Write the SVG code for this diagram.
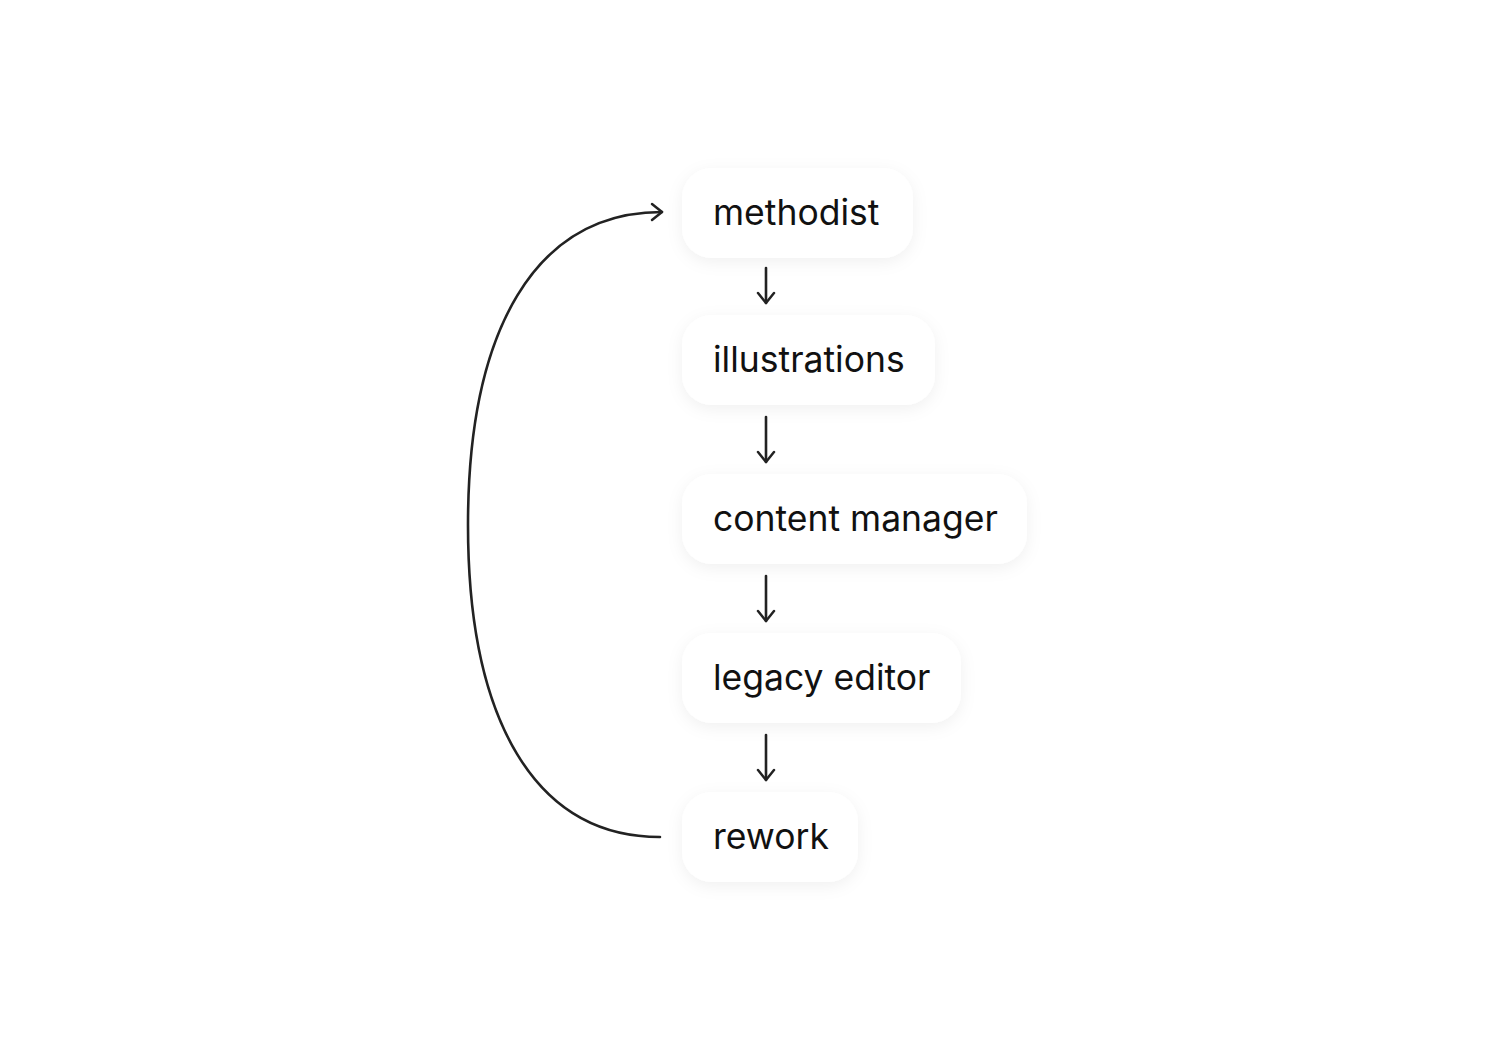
<svg xmlns="http://www.w3.org/2000/svg" width="1503" height="1050" viewBox="0 0 1503 1050">
<defs>
<filter id="sh" x="-30%" y="-40%" width="160%" height="180%">
<feDropShadow dx="0" dy="4" stdDeviation="8" flood-color="#000" flood-opacity="0.06"/>
</filter>
<marker id="ah" viewBox="0 0 20 20" refX="16" refY="10" markerWidth="20" markerHeight="20" markerUnits="userSpaceOnUse" orient="auto">
<path d="M6,2 L16,10 L6,18" fill="none" stroke="#222" stroke-width="2.5" stroke-linecap="round" stroke-linejoin="round"/>
</marker>
</defs>
<style>
.box{fill:#fff;filter:url(#sh)}
.lbl{font-family:Inter,"Noto Sans",sans-serif;font-size:35.5px;fill:#111}
.c{fill:none;stroke:#222;stroke-width:2.6;stroke-linecap:round}
</style>
<rect width="1503" height="1050" fill="#fff"/>
<g id="connectors">
<path class="c" d="M766,268 L766,303" marker-end="url(#ah)"/>
<path class="c" d="M766,417 L766,462" marker-end="url(#ah)"/>
<path class="c" d="M766,576 L766,621" marker-end="url(#ah)"/>
<path class="c" d="M766,735 L766,780" marker-end="url(#ah)"/>
<path class="c" d="M660,837 C535,837 468,720 468,525 C468,330 535,212 662,212" marker-end="url(#ah)"/>
</g>
<g id="methodist"><rect class="box" x="682" y="168" width="231" height="90" rx="30"/><text class="lbl" x="713" y="225">methodist</text></g>
<g id="illustrations"><rect class="box" x="682" y="315" width="253" height="90" rx="30"/><text class="lbl" x="713" y="372">illustrations</text></g>
<g id="content-manager"><rect class="box" x="682" y="474" width="345" height="90" rx="30"/><text class="lbl" x="713" y="531">content manager</text></g>
<g id="legacy-editor"><rect class="box" x="682" y="633" width="279" height="90" rx="30"/><text class="lbl" x="713" y="690">legacy editor</text></g>
<g id="rework"><rect class="box" x="682" y="792" width="176" height="90" rx="30"/><text class="lbl" x="713" y="849">rework</text></g>
</svg>
